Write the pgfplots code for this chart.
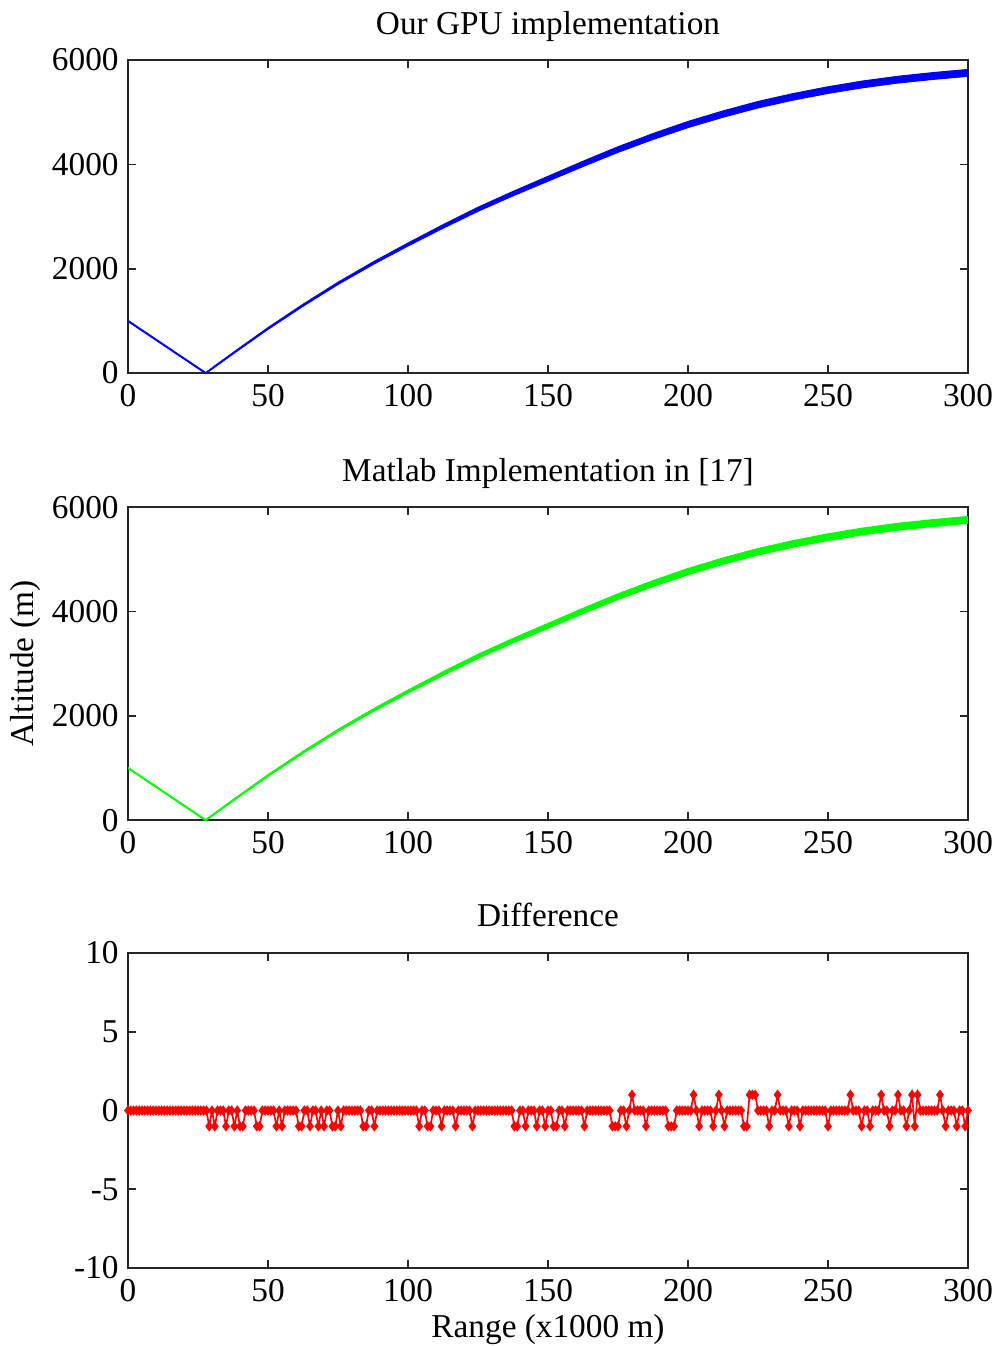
\documentclass[border=0pt]{standalone}
\usepackage{fontspec}
\setmainfont{Liberation Serif}
\usepackage{pgfplots}
\pgfplotsset{compat=1.18}
\usepackage{pgfplotstable}
\usepgfplotslibrary{fillbetween}

% center altitude y and half thickness h of the traced band
\pgfplotstableread{
x y h
0 1000 12
27.75 0 12
37.5 380 14
50 855 17
62.5 1300 20
75 1720 22
87.5 2105 25
100 2465 29
112.5 2810 34
125 3140 39
137.5 3440 43
150 3725 47
162.5 4010 51
175 4285 54
187.5 4535 57
200 4765 59
212.5 4965 61
225 5145 62
237.5 5295 63
250 5425 64
262.5 5535 65
275 5625 65
287.5 5695 66
300 5755 66
}\altdata

\pgfplotsset{mstyle/.style={
  scale only axis, width=302.7pt, anchor=south west,
  xmin=0, xmax=300, xtick={0,50,100,150,200,250,300},
  tick align=inside, xtick pos=both, ytick pos=both,
  xticklabel pos=lower, yticklabel pos=left,
  major tick length=2.9pt,
  axis line style={line width=0.6pt, black!85},
  tick style={line width=0.6pt, black!85},
  scaled ticks=false,
  /pgf/number format/assume math mode=true,
  /pgf/number format/1000 sep={},
  yticklabel style={xshift=0.8pt},
  title style={at={(0.5,1)}, anchor=base, yshift=3.4pt},
}}

\begin{document}
\fontsize{12}{14}\selectfont
\begin{tikzpicture}

\begin{axis}[mstyle, at={(46.13pt,350.6pt)}, height=112.8pt,
  ymin=0, ymax=6000, ytick={0,2000,4000,6000},
  title={Our GPU implementation}]
\addplot[name path=U, draw=blue, line width=0.35pt] table[x=x, y expr=\thisrow{y}+\thisrow{h}] {\altdata};
\addplot[name path=L, draw=blue, line width=0.35pt] table[x=x, y expr=\thisrow{y}-\thisrow{h}] {\altdata};
\addplot[blue, draw=none] fill between[of=U and L];
\end{axis}

\begin{axis}[mstyle, at={(46.13pt,189.5pt)}, height=112.8pt,
  ymin=0, ymax=6000, ytick={0,2000,4000,6000},
  title={Matlab Implementation in [17]},
  ylabel={Altitude (m)},
  ylabel style={at={(axis description cs:-0.122,0.5)}, anchor=center}]
\addplot[name path=U2, draw=green, line width=0.35pt] table[x=x, y expr=\thisrow{y}+\thisrow{h}] {\altdata};
\addplot[name path=L2, draw=green, line width=0.35pt] table[x=x, y expr=\thisrow{y}-\thisrow{h}] {\altdata};
\addplot[green, draw=none] fill between[of=U2 and L2];
\end{axis}

\begin{axis}[mstyle, at={(46.13pt,28.1pt)}, height=113.5pt,
  ymin=-10, ymax=10, ytick={-10,-5,0,5,10},
  title={Difference},
  xlabel={Range (x1000 m)},
  xlabel style={at={(axis description cs:0.5,0)}, anchor=base, yshift=-25.2pt}]
\addplot[red, line width=0.6pt, mark=diamond*, mark size=1.4pt, mark options={solid}] coordinates {
(0,0)(1,0)(2,0)(3,0)(4,0)(5,0)(6,0)(7,0)(8,0)(9,0)
(10,0)(11,0)(12,0)(13,0)(14,0)(15,0)(16,0)(17,0)(18,0)(19,0)
(20,0)(21,0)(22,0)(23,0)(24,0)(25,0)(26,0)(27,0)(28,0)(29,-1)
(30,0)(31,-1)(32,0)(33,0)(34,0)(35,-1)(36,0)(37,0)(38,-1)(39,0)
(40,-1)(41,-1)(42,0)(43,0)(44,0)(45,0)(46,-1)(47,-1)(48,0)(49,0)
(50,0)(51,0)(52,0)(53,-1)(54,0)(55,-1)(56,0)(57,0)(58,0)(59,0)
(60,0)(61,-1)(62,-1)(63,0)(64,0)(65,-1)(66,0)(67,0)(68,-1)(69,0)
(70,-1)(71,0)(72,0)(73,-1)(74,-1)(75,0)(76,-1)(77,0)(78,0)(79,0)
(80,0)(81,0)(82,0)(83,0)(84,-1)(85,-1)(86,0)(87,0)(88,-1)(89,0)
(90,0)(91,0)(92,0)(93,0)(94,0)(95,0)(96,0)(97,0)(98,0)(99,0)
(100,0)(101,0)(102,0)(103,0)(104,-1)(105,0)(106,0)(107,-1)(108,-1)(109,0)
(110,0)(111,0)(112,-1)(113,0)(114,0)(115,0)(116,0)(117,-1)(118,0)(119,0)
(120,0)(121,0)(122,0)(123,-1)(124,0)(125,0)(126,0)(127,0)(128,0)(129,0)
(130,0)(131,0)(132,0)(133,0)(134,0)(135,0)(136,0)(137,0)(138,-1)(139,-1)
(140,0)(141,0)(142,-1)(143,0)(144,0)(145,0)(146,-1)(147,0)(148,0)(149,-1)
(150,0)(151,0)(152,-1)(153,-1)(154,0)(155,0)(156,-1)(157,0)(158,0)(159,0)
(160,0)(161,0)(162,0)(163,-1)(164,0)(165,0)(166,0)(167,0)(168,0)(169,0)
(170,0)(171,0)(172,0)(173,-1)(174,-1)(175,-1)(176,0)(177,0)(178,-1)(179,0)
(180,1)(181,0)(182,0)(183,0)(184,0)(185,-1)(186,0)(187,0)(188,0)(189,0)
(190,0)(191,0)(192,0)(193,-1)(194,-1)(195,-1)(196,0)(197,0)(198,0)(199,0)
(200,0)(201,0)(202,1)(203,0)(204,-1)(205,0)(206,0)(207,0)(208,0)(209,-1)
(210,0)(211,1)(212,0)(213,-1)(214,0)(215,0)(216,0)(217,0)(218,0)(219,0)
(220,-1)(221,-1)(222,1)(223,1)(224,1)(225,0)(226,0)(227,0)(228,0)(229,-1)
(230,0)(231,0)(232,1)(233,0)(234,0)(235,0)(236,-1)(237,0)(238,0)(239,0)
(240,-1)(241,0)(242,0)(243,0)(244,0)(245,0)(246,0)(247,0)(248,0)(249,0)
(250,-1)(251,0)(252,0)(253,0)(254,0)(255,0)(256,0)(257,0)(258,1)(259,0)
(260,0)(261,0)(262,-1)(263,0)(264,0)(265,-1)(266,0)(267,0)(268,0)(269,1)
(270,0)(271,0)(272,-1)(273,0)(274,0)(275,1)(276,0)(277,0)(278,-1)(279,0)
(280,1)(281,-1)(282,1)(283,0)(284,0)(285,0)(286,0)(287,0)(288,0)(289,0)
(290,1)(291,0)(292,-1)(293,0)(294,0)(295,0)(296,-1)(297,0)(298,0)(299,-1)
(300,0)
};
\end{axis}
\pgfresetboundingbox
\useasboundingbox (0,0) rectangle (360pt,485.05pt);
\end{tikzpicture}
\end{document}
